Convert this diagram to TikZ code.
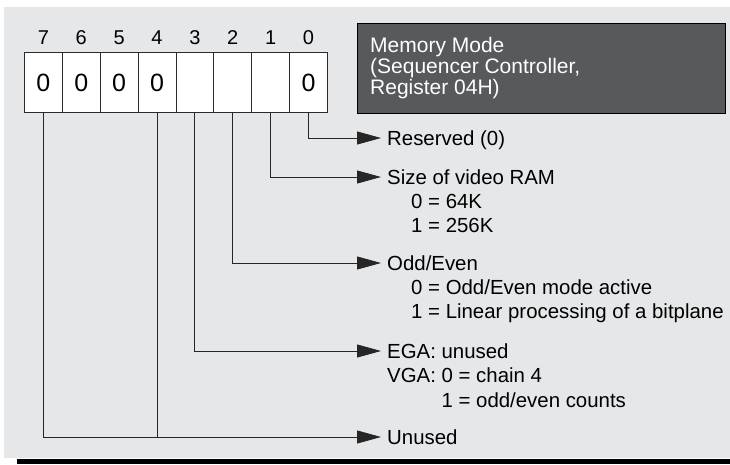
\documentclass[tikz,border=0pt]{standalone}
\usepackage{fontspec}
\setmainfont{Liberation Sans}
\usetikzlibrary{arrows.meta}
\definecolor{bggray}{HTML}{E6E7E8}
\definecolor{titlegray}{HTML}{58595B}
\definecolor{linegray}{HTML}{2B2B2B}
\begin{document}
\begin{tikzpicture}[x=1pt,y=-1pt,
  cell/.style={draw=linegray, line width=0.9pt, fill=white, minimum width=37.875pt,
    minimum height=60pt, inner sep=0pt, anchor=north west, font=\fontsize{25}{25}\selectfont},
  bitnum/.style={font=\fontsize{20}{20}\selectfont, inner sep=0pt, text height=14.3pt, text depth=0pt},
  lab/.style={font=\fontsize{20.4}{24}\selectfont, inner xsep=6pt, inner ysep=0pt,
    text height=14.6pt, text depth=0pt, anchor=west},
  titletext/.style={font=\fontsize{21}{21}\selectfont, text=white, inner sep=0pt,
    text height=15pt, text depth=0pt, anchor=west},
  titlebox/.style={draw=black, line width=0.9pt, fill=titlegray, minimum width=368pt,
    minimum height=90pt, inner sep=0pt, anchor=north west},
  conn/.style={line width=0.8pt, draw=black!85},
  arr/.style={conn, -{Triangle[length=24pt,width=13pt]}},
]
\useasboundingbox (0,0) rectangle (730,464);
\fill[bggray] (4,7) rectangle (730,458);
\fill[black] (17,459) rectangle (730,464);

% bit cells
\foreach \i/\v in {7/0,6/0,5/0,4/0,3/{},2/{},1/{},0/0}{
  \node[cell] (c\i) at ({24+(7-\i)*37.875},52) {\v};
}
\coordinate (numrow) at (0,37);
\foreach \i in {0,...,7}{
  \node[bitnum] (n\i) at (c\i.center |- numrow) {\i};
}

% title box
\node[titlebox] (title) at (357,23) {};
\node[titletext] (t1) at (370,45) {Memory Mode};
\node[titletext] (t2) at (370,66) {(Sequencer Controller,};
\node[titletext] (t3) at (370,87) {Register 04H)};

% labels
\node[lab] (r0) at (381,138) {Reserved (0)};
\node[lab] (r1) at (381,177) {Size of video RAM};
\node[lab] (s1a) at (405,201) {0 = 64K};
\node[lab] (s1b) at (405,225) {1 = 256K};
\node[lab] (r2) at (381,263) {Odd/Even};
\node[lab] (s2a) at (405,287) {0 = Odd/Even mode active};
\node[lab] (s2b) at (405,311) {1 = Linear processing of a bitplane};
\node[lab] (r3) at (381,351) {EGA: unused};
\node[lab] (s3a) at (381,375) {VGA: 0 = chain 4};
\node[lab] (s3b) at (381,400) {\phantom{VGA: }1 = odd/even counts};
\node[lab] (r7) at (381,437) {Unused};

% connectors
\draw[arr] (c0.south) |- (r0.west);
\draw[arr] (c1.south) |- (r1.west);
\draw[arr] (c2.south) |- (r2.west);
\draw[arr] (c3.south) |- (r3.west);
\draw[arr] (c7.south) |- (r7.west);
\draw[conn] (c4.south) -- (c4.south |- r7.west);
\end{tikzpicture}
\end{document}
